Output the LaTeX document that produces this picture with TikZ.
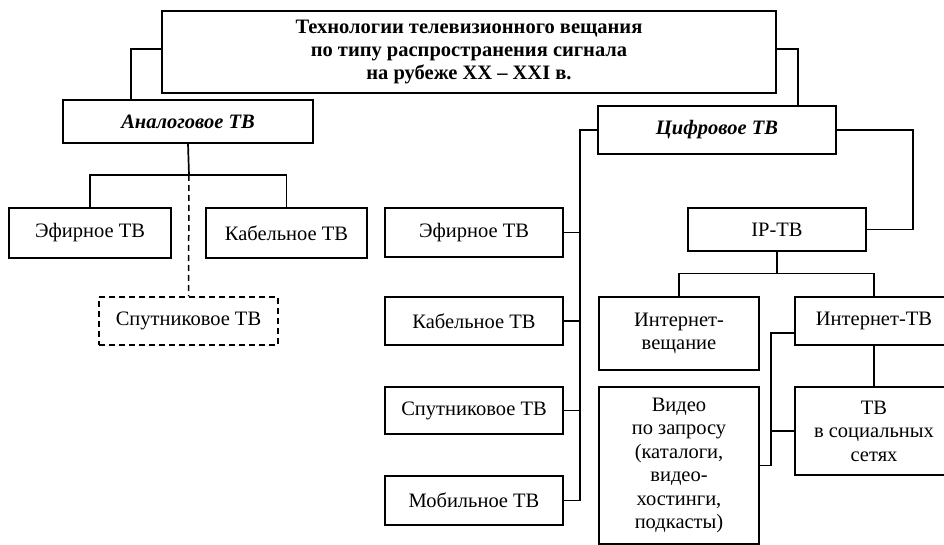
\documentclass[tikz,border=0pt]{standalone}
\usepackage{fontspec}
\setmainfont{Liberation Serif}
\begin{document}
\begin{tikzpicture}[x=1pt,y=-1pt,
  box/.style={draw, line width=1.3pt, inner sep=0pt, align=center,
    font=\fontsize{20.5}{23.5}\selectfont},
  dbox/.style={box, dashed, dash pattern=on 6pt off 4pt},
  conn/.style={line width=1.7pt},
  dconn/.style={line width=1.5pt, dash pattern=on 6pt off 4pt}]
\useasboundingbox (0,0) rectangle (944,545);
\clip (0,0) rectangle (944,545);
% title
\node[box, minimum width=614pt, minimum height=82pt,
  font=\fontsize{20.5}{23}\selectfont\bfseries] (title) at (469,52)
  {Технологии телевизионного вещания\\по типу распространения сигнала\\на рубеже XX – XXI в.};
% level 1
\node[box, minimum width=250pt, minimum height=43pt,
  font=\fontsize{20.5}{23.5}\selectfont\bfseries\itshape] (analog) at (188,121.5) {Аналоговое ТВ};
\node[box, minimum width=238pt, minimum height=48pt,
  font=\fontsize{20.5}{23.5}\selectfont\bfseries\itshape] (digital) at (717,130) {Цифровое ТВ};
% analog children
\node[box, minimum width=162pt, minimum height=50pt] (aEf) at (90,233) {Эфирное ТВ};
\node[box, minimum width=161pt, minimum height=50pt] (aKab) at (286.5,233) {Кабельное ТВ};
\node[dbox, minimum width=179pt, minimum height=48pt] (aSat) at (188.5,321) {Спутниковое ТВ};
% digital children (left column)
\node[box, minimum width=178pt, minimum height=49pt] (dEf) at (474,232.5) {Эфирное ТВ};
\node[box, minimum width=178pt, minimum height=48pt] (dKab) at (474,321) {Кабельное ТВ};
\node[box, minimum width=178pt, minimum height=47pt] (dSat) at (474,410.5) {Спутниковое ТВ};
\node[box, minimum width=178pt, minimum height=49pt] (dMob) at (474,500.5) {Мобильное ТВ};
% IP-TV branch
\node[box, minimum width=178pt, minimum height=43pt] (iptv) at (777,229.5) {IP-ТВ};
\node[box, minimum width=160pt, minimum height=73pt] (inetv) at (679,333.5) {Интернет-\\вещание};
\node[box, minimum width=158pt, minimum height=48pt] (inettv) at (874,321) {Интернет-ТВ};
\node[box, minimum width=160pt, minimum height=157pt] (vod) at (679,465.5)
  {Видео\\по запросу\\(каталоги,\\видео-\\хостинги,\\подкасты)};
\node[box, minimum width=158pt, minimum height=88pt] (soc) at (874,431) {ТВ\\в социальных\\сетях};
% connectors: title
\draw[conn] ([yshift=3pt]title.west) -| ([xshift=-57pt]analog.north);
\draw[conn] ([yshift=3pt]title.east) -| ([xshift=81pt]digital.north);
% analog tree
\coordinate (aj) at (189,175);
\draw[conn] (analog.south) -- (aj);
\draw[conn] (aEf.north) |- (aj) -| (aKab.north);
\draw[dconn] (aj) -- (aSat.north);
% digital bus
\coordinate (dbus) at (580,500.5);
\draw[conn] (digital.west) -| (dbus) -- (dMob.east);
\draw[conn] (dEf.east) -- (dEf.east -| dbus);
\draw[conn] (dKab.east) -- (dKab.east -| dbus);
\draw[conn] (dSat.east) -- (dSat.east -| dbus);
% digital -> IP-TV
\draw[conn] (digital.east) -- ++(76,0) |- (iptv.east);
% IP-TV tree
\coordinate (ij) at (777,273.5);
\draw[conn] (iptv.south) -- (ij);
\draw[conn] (inetv.north) |- (ij) -| (inettv.north);
% Internet-TV
\draw[conn] (inettv.south) -- (soc.north);
\coordinate (vj) at (771,431);
\draw[conn] ([yshift=-11.7pt]inettv.west) -| (vj) |- (vod.east);
\draw[conn] (vj) -- (soc.west);
\end{tikzpicture}
\end{document}
